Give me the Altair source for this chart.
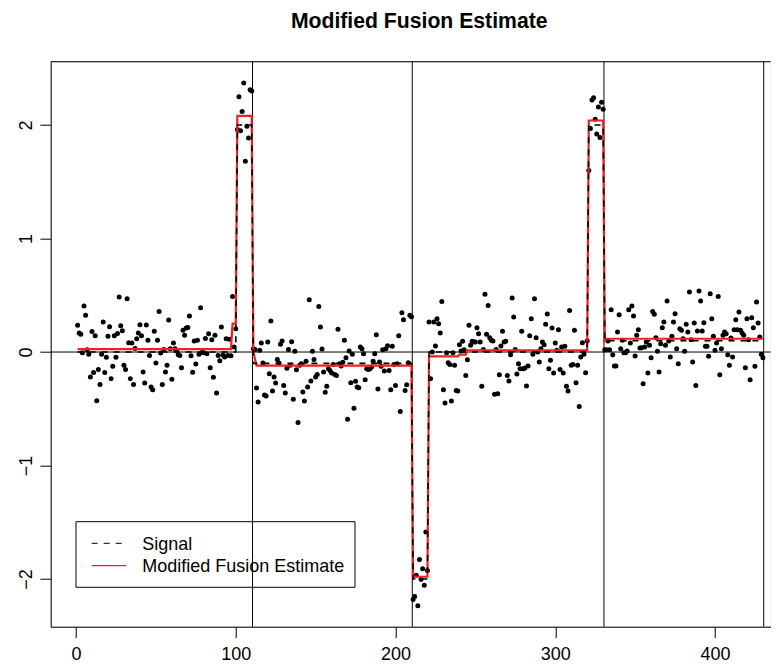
import altair as alt
import pandas as pd

# ---------------- data ----------------
seg1 = [0.235, 0.167, 0.156, -0.006, 0.405, 0.323, 0.02, -0.02, -0.22, 0.18,
        -0.18, 0.144, -0.43, -0.153, -0.285, -0.02, 0.264, -0.18, -0.047, 0.138,
        0.223, -0.235, -0.126, 0.144, -0.047, 0.164, 0.485, 0.232, 0.188, -0.117,
        -0.153, 0.47, 0.082, -0.235, 0.079, -0.285, 0.032, 0.117, 0.167, 0.241,
        0.144, -0.176, -0.273, 0.238, 0.103, -0.03, -0.308, -0.332, 0.182, -0.097,
        0.103, 0.358, -0.009, -0.285, 0.023, -0.176, -0.117, 0.282, 0.03, -0.24,
        0.079, 0.03, 0.009, -0.023, -0.03, -0.138, 0.191, 0.147, 0.211, 0.217,
        0.317, -0.032, -0.179, 0.097, -0.106, 0.103, -0.02, 0.39, -0.003, -0.006,
        0.12, -0.015, 0.16, -0.138, 0.109, -0.223, 0.147, -0.36, -0.03, -0.076,
        0.22, -0.026, -0.044, 0.117, -0.03, 0.112, -0.032, 0.49, 0.044, 0.206]
spike1 = [1.96, 2.25, 1.95, 2.12, 2.37, 1.68, 1.99, 1.885, 2.31, 2.30]
seg2 = [0.03, 0.023, -0.317, -0.44, 0.015, 0.079, -0.097, -0.379, -0.388, 0.088,
        -0.191, 0.273, -0.344, -0.22, -0.273, -0.065, -0.097, 0.068, 0.097, -0.294,
        -0.361, -0.144, 0.023, -0.117, 0.091, -0.417, 0.006, -0.156, -0.62, -0.117,
        -0.103, -0.352, -0.432, -0.082, -0.308, 0.461, -0.255, 0.006, -0.065, -0.22,
        -0.197, 0.402, 0.22, 0.026, -0.176, -0.355, -0.302, -0.147, -0.162, -0.185,
        -0.109, -0.197, -0.206, 0.2, -0.103, -0.123, -0.091, 0.103, -0.05, -0.593,
        0.009, -0.27, -0.02, -0.496, -0.258, -0.308, -0.314, 0.044, 0.03, -0.015,
        -0.244, -0.147, -0.153, -0.147, -0.132, -0.082, -0.015, 0.153, -0.326, -0.088,
        -0.126, 0.02, -0.167, 0.03, 0.056, -0.162, -0.332, 0.05, -0.109, -0.294,
        -0.103, 0.144, -0.523, 0.347, 0.285, -0.338, -0.288, -0.094, 0.323, 0.31]
spike2 = [-2.18, -2.153, -1.967, -2.235, -1.827, -2.005, -1.909, -2.055, -1.586, -1.924]
seg4 = [0.264, -0.235, 0.0, 0.264, 0.053, 0.294, 0.25, 0.167, 0.446, -0.332,
        -0.449, -0.006, -0.094, -0.109, -0.432, -0.006, -0.117, -0.338, -0.344, 0.065,
        0.009, 0.094, 0.02, -0.206, -0.068, 0.235, 0.059, 0.094, 0.088, 0.088,
        0.214, 0.162, 0.088, -0.302, 0.023, 0.508, 0.156, 0.411, 0.126, 0.103,
        0.097, -0.373, 0.023, -0.367, -0.2, 0.053, 0.182, 0.088, 0.094, -0.206,
        -0.255, -0.023, 0.476, 0.308, 0.023, -0.194, -0.103, -0.147, 0.182, -0.147,
        -0.141, -0.3, -0.123, 0.144, 0.294, -0.02, 0.47, 0.126, 0.0, -0.088,
        0.03, 0.088, 0.065, 0.244, 0.335, -0.147, -0.073, 0.211, -0.185, 0.079,
        0.015, 0.197, -0.153, 0.044, -0.185, 0.05, -0.302, -0.344, 0.367, -0.117,
        -0.109, 0.191, -0.27, -0.117, -0.479, -0.044, 0.082, -0.02, -0.182, 0.1]
spike3 = [1.60, 1.97, 2.22, 2.24, 2.05, 1.92, 2.16, 1.89, 2.20, 2.14]
seg6 = [0.02, 0.02, 0.097, 0.02, 0.373, -0.023, -0.123, -0.123, 0.176, 0.329,
        0.03, 0.103, -0.006, -0.006, 0.009, 0.373, 0.079, 0.405, 0.317, -0.035,
        0.147, 0.197, 0.035, 0.038, -0.279, 0.044, 0.088, -0.185, 0.059, -0.05,
        0.358, 0.332, 0.126, 0.006, -0.176, 0.073, 0.214, 0.264, 0.059, 0.449,
        0.097, -0.044, 0.138, 0.264, 0.338, 0.03, -0.103, 0.206, 0.191, 0.117,
        0.006, 0.244, 0.176, 0.529, 0.109, -0.088, 0.256, -0.294, 0.185, 0.537,
        0.449, 0.185, 0.258, 0.05, 0.05, -0.038, 0.514, 0.294, 0.138, 0.015,
        0.079, 0.49, -0.2, 0.03, 0.147, 0.176, 0.162, -0.023, -0.117, 0.123,
        -0.044, 0.197, 0.285, 0.197, 0.352, 0.191, 0.167, 0.147, -0.138, 0.294,
        0.109, -0.244, 0.302, 0.214, -0.126, 0.44, 0.256, 0.132, -0.02, -0.05]

signal_starts = [1, 101, 111, 211, 221, 321, 331]
signal_ends = [100, 110, 210, 220, 320, 330, 430]
signal_levels = [0.0, 2.0, -0.1, -2.0, 0.0, 2.0, 0.1]

est_starts = [1, 98, 101, 111, 112, 113, 211, 221, 240, 245, 321, 331, 332]
est_ends = [97, 100, 110, 111, 112, 210, 220, 239, 244, 320, 330, 331, 430]
est_levels = [0.026, 0.25, 2.08, 0.015, -0.06, -0.12, -1.98, -0.038, -0.023, 0.015,
              2.04, 0.1, 0.117]

changepoints = [110.5, 210.5, 330.5, 430.5]
x_ticks = [0, 100, 200, 300, 400]
y_ticks = [-2, -1, 0, 1, 2]
legend_labels = ["Signal", "Modified Fusion Estimate"]
chart_title = "Modified Fusion Estimate"

# ---------------- build table ----------------
obs = seg1 + spike1 + seg2 + spike2 + seg4 + spike3 + seg6
n = len(obs)


def expand(starts, ends, levels):
    out = []
    for s, e, l in zip(starts, ends, levels):
        out += [l] * (e - s + 1)
    return out


df = pd.DataFrame({
    "index": list(range(1, n + 1)),
    "obs": obs,
    "signal": expand(signal_starts, signal_ends, signal_levels),
    "estimate": expand(est_starts, est_ends, est_levels),
})

FONT = "Liberation Sans"
W, H = 720, 565
xscale = alt.Scale(domain=[-15.84, -15.84 + W / 1.5975], nice=False, zero=False)
yscale = alt.Scale(domain=[-2.42, 2.558], nice=False, zero=False)

xaxis = alt.Axis(values=x_ticks, title=None, grid=False, tickSize=10.8, labelPadding=8.5,
                 labelFontSize=18, labelFont=FONT, labelColor="black", tickColor="black",
                 domainColor="black", labelFlush=False, labelOverlap=False)
yaxis = alt.Axis(values=y_ticks, title=None, grid=False, tickSize=10.8, labelPadding=4,
                 labelFontSize=18, labelFont=FONT, labelColor="black", tickColor="black",
                 domainColor="black", labelAngle=270, labelAlign="center",
                 labelBaseline="bottom", labelFlush=False, labelOverlap=False)

X = alt.X("index:Q", scale=xscale, axis=xaxis)

base = alt.Chart(df)
points = base.mark_circle(size=25, color="black", opacity=1).encode(
    x=X, y=alt.Y("obs:Q", scale=yscale, axis=yaxis))
est = base.mark_line(color="#ee2222", strokeWidth=2.2).encode(
    x=X, y=alt.Y("estimate:Q", scale=yscale, axis=yaxis))
sig = base.mark_line(color="black", strokeWidth=1.6, strokeDash=[6, 6]).encode(
    x=X, y=alt.Y("signal:Q", scale=yscale, axis=yaxis))

hline = alt.Chart(pd.DataFrame({"h": [0]})).mark_rule(color="black", strokeWidth=1).encode(
    y=alt.Y("h:Q", scale=yscale, axis=yaxis))
vlines = alt.Chart(pd.DataFrame({"v": changepoints})).mark_rule(color="black", strokeWidth=1).encode(
    x=alt.X("v:Q", scale=xscale, axis=xaxis))

one = pd.DataFrame({"a": [0]})
top_border = alt.Chart(one).mark_rule(color="black", strokeWidth=1).encode(
    x=alt.value(0), x2=alt.value(W), y=alt.value(0))

# legend (drawn by hand, R style)
leg_box = alt.Chart(one).mark_rect(filled=False, stroke="black", strokeWidth=1).encode(
    x=alt.value(25.3), x2=alt.value(304.3), y=alt.value(460), y2=alt.value(525.6))
leg_sig = alt.Chart(one).mark_rule(color="#333333", strokeWidth=1.2, strokeDash=[6, 6]).encode(
    x=alt.value(41), x2=alt.value(75.3), y=alt.value(481.6))
leg_est = alt.Chart(one).mark_rule(color="#ee2222", strokeWidth=1.2).encode(
    x=alt.value(41), x2=alt.value(75.3), y=alt.value(504))
leg_t1 = alt.Chart(one).mark_text(text=legend_labels[0], align="left", baseline="alphabetic",
                                  font=FONT, fontSize=18, color="black").encode(
    x=alt.value(91.6), y=alt.value(488.3))
leg_t2 = alt.Chart(one).mark_text(text=legend_labels[1], align="left", baseline="alphabetic",
                                  font=FONT, fontSize=18, color="black").encode(
    x=alt.value(91.6), y=alt.value(510.3))

chart = alt.layer(
    points, hline, vlines, est, sig, top_border, leg_box, leg_sig, leg_est, leg_t1, leg_t2
).properties(
    width=W, height=H,
    padding={"left": 42.7, "top": 53.7, "right": 0, "bottom": 37.3},
    autosize=alt.AutoSizeParams(type="none"),
    title=alt.TitleParams(text=chart_title, font=FONT, fontSize=21.2, fontWeight="bold",
                          anchor="middle", dx=8.5, offset=29.5, color="black"),
).configure_view(strokeWidth=0).configure(background="white")

chart.save("out.html", embed_options={"renderer": "svg", "actions": False})
